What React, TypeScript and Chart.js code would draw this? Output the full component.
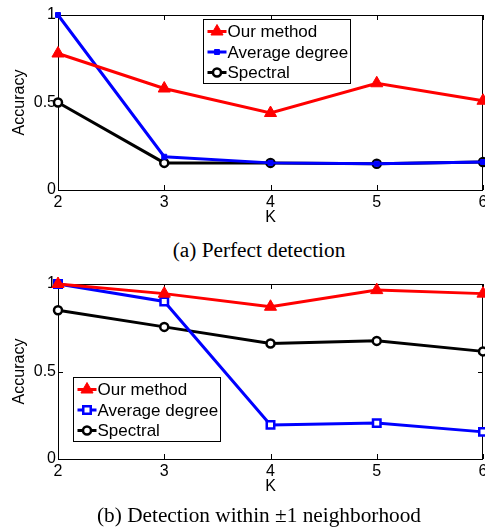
import React, { useEffect, useRef } from 'react';
import { Chart, registerables } from 'chart.js';
import { drawPoint } from 'chart.js/helpers';

Chart.register(...registerables);

const K_VALUES = [2, 3, 4, 5, 6];
const Y_TICKS = [0, 0.5, 1];
const SERIES_NAMES = ['Our method', 'Average degree', 'Spectral'];

const TOP_OUR = [0.78, 0.58, 0.44, 0.61, 0.51];
const TOP_AVG = [1.0, 0.19, 0.155, 0.15, 0.16];
const TOP_SPEC = [0.5, 0.155, 0.155, 0.15, 0.16];

const BOT_OUR = [1.0, 0.945, 0.87, 0.965, 0.945];
const BOT_AVG = [1.0, 0.9, 0.195, 0.205, 0.155];
const BOT_SPEC = [0.85, 0.755, 0.66, 0.675, 0.615];

const CAPTION_A = '(a) Perfect detection';
const CAPTION_B = '(b) Detection within \u00b11 neighborhood';
const X_TITLE = 'K';
const Y_TITLE = 'Accuracy';

const SANS = "'Liberation Sans', Arial, Helvetica, sans-serif";
const SERIF = "'Liberation Serif', 'Times New Roman', serif";

const PAGE_W = 485;
const W = 491;
const H = 235;

function toPoints(vals: number[]) {
  return K_VALUES.map((k, i) => ({ x: k, y: vals[i] }));
}

const framePlugin = {
  id: 'matlabFrame',
  beforeDatasetsDraw(chart: any) {
    const { ctx, chartArea } = chart;
    const { left, right, top, bottom } = chartArea;
    const xs = chart.scales.x;
    const ys = chart.scales.y;
    ctx.save();
    ctx.strokeStyle = '#000';
    ctx.lineWidth = 1;
    ctx.strokeRect(left + 0.5, top + 0.5, right - left - 1, bottom - top);
    const tl = 5;
    ctx.beginPath();
    K_VALUES.forEach((k) => {
      const px = Math.round(xs.getPixelForValue(k)) + 0.5;
      ctx.moveTo(px, bottom);
      ctx.lineTo(px, bottom - tl);
      ctx.moveTo(px, top);
      ctx.lineTo(px, top + tl);
    });
    Y_TICKS.forEach((v) => {
      const py = Math.round(ys.getPixelForValue(v)) + 0.5;
      ctx.moveTo(left, py);
      ctx.lineTo(left + tl, py);
      ctx.moveTo(right, py);
      ctx.lineTo(right - tl, py);
    });
    ctx.stroke();
    ctx.restore();
  },
};

const legendPlugin = {
  id: 'matlabLegend',
  afterDatasetsDraw(chart: any, _args: any, opts: any) {
    const { ctx, chartArea } = chart;
    const bx = Math.round(chartArea.left + opts.dx) + 0.5;
    const by = Math.round(chartArea.top + opts.dy) + 0.5;
    const bw = 147;
    const bh = 64;
    ctx.save();
    ctx.fillStyle = '#fff';
    ctx.fillRect(bx, by, bw, bh);
    ctx.strokeStyle = '#000';
    ctx.lineWidth = 1;
    ctx.strokeRect(bx, by, bw, bh);
    const rows = [12, 32.5, 53];
    chart.data.datasets.forEach((ds: any, i: number) => {
      const cy = by + rows[i];
      ctx.strokeStyle = ds.borderColor;
      ctx.lineWidth = 3;
      ctx.beginPath();
      ctx.moveTo(bx + 4, cy);
      ctx.lineTo(bx + 23, cy);
      ctx.stroke();
      ctx.fillStyle = ds.pointBackgroundColor;
      ctx.strokeStyle = ds.pointBorderColor;
      ctx.lineWidth = ds.pointBorderWidth;
      drawPoint(ctx, { pointStyle: ds.pointStyle, radius: ds.pointRadius, rotation: 0, borderWidth: ds.pointBorderWidth }, bx + 13.5, cy);
      ctx.fillStyle = '#000';
      ctx.font = `17px ${SANS}`;
      ctx.textAlign = 'left';
      ctx.textBaseline = 'middle';
      ctx.fillText(ds.label, bx + 24, cy + 1);
    });
    ctx.restore();
  },
};

function makeDatasets(our: number[], avg: number[], spec: number[], hollowSquares: boolean) {
  return [
    {
      label: SERIES_NAMES[0],
      data: toPoints(our),
      borderColor: '#ff0000',
      borderWidth: 3,
      pointStyle: 'triangle',
      pointRadius: 7,
      pointBackgroundColor: '#ff0000',
      pointBorderColor: '#ff0000',
      pointBorderWidth: 1,
      clip: false,
    },
    {
      label: SERIES_NAMES[1],
      data: toPoints(avg),
      borderColor: '#0000ff',
      borderWidth: 3,
      pointStyle: 'rect',
      pointRadius: hollowSquares ? 5.3 : 3.5,
      pointBackgroundColor: hollowSquares ? '#ffffff' : '#0000ff',
      pointBorderColor: '#0000ff',
      pointBorderWidth: hollowSquares ? 2.5 : 1,
      clip: false,
    },
    {
      label: SERIES_NAMES[2],
      data: toPoints(spec),
      borderColor: '#000000',
      borderWidth: 3,
      pointStyle: 'circle',
      pointRadius: 4,
      pointBackgroundColor: '#ffffff',
      pointBorderColor: '#000000',
      pointBorderWidth: 2.5,
      clip: false,
    },
  ];
}

function makeConfig(datasets: any[], legendPos: { dx: number; dy: number }): any {
  return {
    type: 'line',
    data: { datasets },
    plugins: [framePlugin, legendPlugin],
    options: {
      animation: false,
      responsive: false,
      maintainAspectRatio: false,
      layout: { padding: { top: 15, right: 0, left: 0, bottom: 0 } },
      elements: { line: { tension: 0 } },
      plugins: {
        legend: { display: false },
        tooltip: { enabled: false },
        matlabLegend: legendPos,
      },
      scales: {
        x: {
          type: 'linear',
          min: 2,
          max: 6,
          grid: { display: false, drawTicks: false },
          border: { display: false },
          afterBuildTicks: (scale: any) => {
            scale.ticks = K_VALUES.map((v) => ({ value: v }));
          },
          afterFit: (scale: any) => {
            scale.height = H - 190;
          },
          ticks: {
            color: '#000',
            padding: 3,
            maxRotation: 0,
            font: { family: SANS, size: 16 },
            callback: (v: number) => String(v),
          },
          title: {
            display: true,
            text: X_TITLE,
            color: '#000',
            font: { family: SANS, size: 16 },
            padding: { top: 0, bottom: 8 },
          },
        },
        y: {
          type: 'linear',
          min: 0,
          max: 1,
          grid: { display: false, drawTicks: false },
          border: { display: false },
          afterBuildTicks: (scale: any) => {
            scale.ticks = Y_TICKS.map((v) => ({ value: v }));
          },
          afterFit: (scale: any) => {
            scale.width = 58;
            scale.paddingTop = 0;
            scale.paddingBottom = 0;
          },
          ticks: {
            color: '#000',
            padding: 2,
            font: { family: SANS, size: 16 },
            callback: (v: number) => String(v),
          },
          title: {
            display: true,
            text: Y_TITLE,
            color: '#000',
            font: { family: SANS, size: 16 },
            padding: { top: 10, bottom: 0 },
          },
        },
      },
    },
  };
}

function LineChart({ config }: { config: () => any }) {
  const ref = useRef<HTMLCanvasElement | null>(null);
  useEffect(() => {
    if (!ref.current) return;
    const chart = new Chart(ref.current, config());
    return () => chart.destroy();
  }, []);
  return <canvas ref={ref} width={W} height={H} style={{ display: 'block', width: W, height: H }} />;
}

export default function App() {
  const captionStyle: React.CSSProperties = {
    position: 'absolute',
    left: 59,
    width: 400,
    textAlign: 'center',
    fontFamily: SERIF,
    fontSize: 21.3,
    lineHeight: '24px',
    color: '#000',
    whiteSpace: 'nowrap',
  };
  return (
    <div style={{ position: 'absolute', left: 0, top: 0, width: PAGE_W, height: 529, background: '#fff', overflow: 'hidden' }}>
      <div style={{ position: 'absolute', left: 0, top: 0 }}>
        <LineChart config={() => makeConfig(makeDatasets(TOP_OUR, TOP_AVG, TOP_SPEC, false), { dx: 145, dy: 4 })} />
      </div>
      <div style={{ ...captionStyle, top: 238 }}>{CAPTION_A}</div>
      <div style={{ position: 'absolute', left: 0, top: 269 }}>
        <LineChart config={() => makeConfig(makeDatasets(BOT_OUR, BOT_AVG, BOT_SPEC, true), { dx: 15, dy: 93 })} />
      </div>
      <div style={{ ...captionStyle, top: 503 }}>{CAPTION_B}</div>
    </div>
  );
}
